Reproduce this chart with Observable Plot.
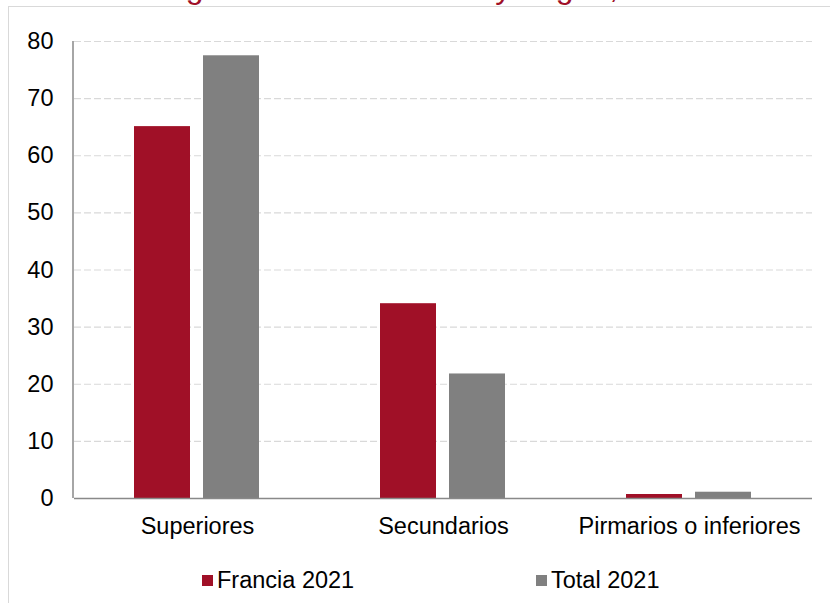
<!DOCTYPE html>
<html>
<head>
<meta charset="utf-8">
<script src="https://cdn.jsdelivr.net/npm/d3@7"></script>
<script src="https://cdn.jsdelivr.net/npm/@observablehq/plot@0.6"></script>
<style>
  html, body { margin: 0; padding: 0; background: #fff; }
  #wrap { position: relative; width: 830px; height: 603px; overflow: hidden; font-family: "Liberation Sans", Arial, sans-serif; }
  #frame { position: absolute; left: 8px; top: 6px; width: 900px; height: 700px; border-left: 1.5px solid #d9d9d9; border-top: 1.5px solid #d9d9d9; }
  #title { position: absolute; left: 152px; top: -29px; font-size: 32px; line-height: 32px; color: #a01027; white-space: nowrap; }
  #chart { position: absolute; left: 0; top: 0; }
  .leg { position: absolute; top: 567px; font-size: 23.5px; line-height: 26px; color: #000; display: flex; align-items: center; white-space: nowrap; }
  .sw { width: 11px; height: 11px; margin-right: 4px; }
</style>
</head>
<body>
<div id="wrap">
  <div id="frame"></div>
  <div id="title">según nivel de estudios y origen, 2021</div>
  <div id="chart"></div>
  <div id="legend"></div>
</div>
<script>
const categories = ["Superiores", "Secundarios", "Pirmarios o inferiores"];
const series = ["Francia 2021", "Total 2021"];
const francia2021 = [65.1, 34.1, 0.7];
const total2021 = [77.5, 21.8, 1.1];
const colors = ["#a01027", "#808080"];
const yTicks = [0, 10, 20, 30, 40, 50, 60, 70, 80];

const rows = [];
categories.forEach((c, i) => {
  rows.push({cat: c, series: series[0], value: francia2021[i]});
  rows.push({cat: c, series: series[1], value: total2021[i]});
});

const chart = Plot.plot({
  width: 830,
  height: 560,
  marginTop: 41,
  marginLeft: 73,
  marginRight: 18,
  marginBottom: 62,
  style: {fontFamily: "'Liberation Sans', Arial, sans-serif", fontSize: "23.5px", color: "#000", background: "transparent", overflow: "visible"},
  fx: {domain: categories, padding: 0, label: null},
  x: {domain: series, paddingInner: 0.187, paddingOuter: 0.864, axis: null},
  y: {domain: [0, 80], label: null},
  color: {domain: series, range: colors},
  marks: [
    Plot.gridY(yTicks.filter(d => d > 0), {stroke: "#d9d9d9", strokeOpacity: 1, strokeWidth: 1.2, strokeDasharray: "7,3"}),
    Plot.barY(rows, {fx: "cat", x: "series", y: "value", fill: "series"}),
    Plot.ruleY([0], {stroke: "#898989", strokeWidth: 1.5}),
    Plot.axisY({ticks: yTicks, tickSize: 0, tickPadding: 21, label: null, fill: "#000", tickFormat: d => String(d)}),
    Plot.axisFx({anchor: "bottom", tickSize: 0, tickPadding: 19, label: null, fill: "#000"})
  ]
});
document.getElementById("chart").appendChild(chart);

// y-axis line, placed with the plot's own scales
const fxS = chart.scale("fx");
const yS = chart.scale("y");
const svg = d3.select(chart);
const x0 = fxS.range[0];
svg.append("line")
  .attr("x1", x0).attr("x2", x0)
  .attr("y1", yS.range[1]).attr("y2", yS.range[0])
  .attr("stroke", "#898989").attr("stroke-width", 1.5);

// legend
const legendLefts = [202, 536];
const legend = document.getElementById("legend");
series.forEach((s, i) => {
  const item = document.createElement("div");
  item.className = "leg";
  item.style.left = legendLefts[i] + "px";
  item.innerHTML = `<div class="sw" style="background:${colors[i]}"></div><span>${s}</span>`;
  legend.appendChild(item);
});
</script>
</body>
</html>
